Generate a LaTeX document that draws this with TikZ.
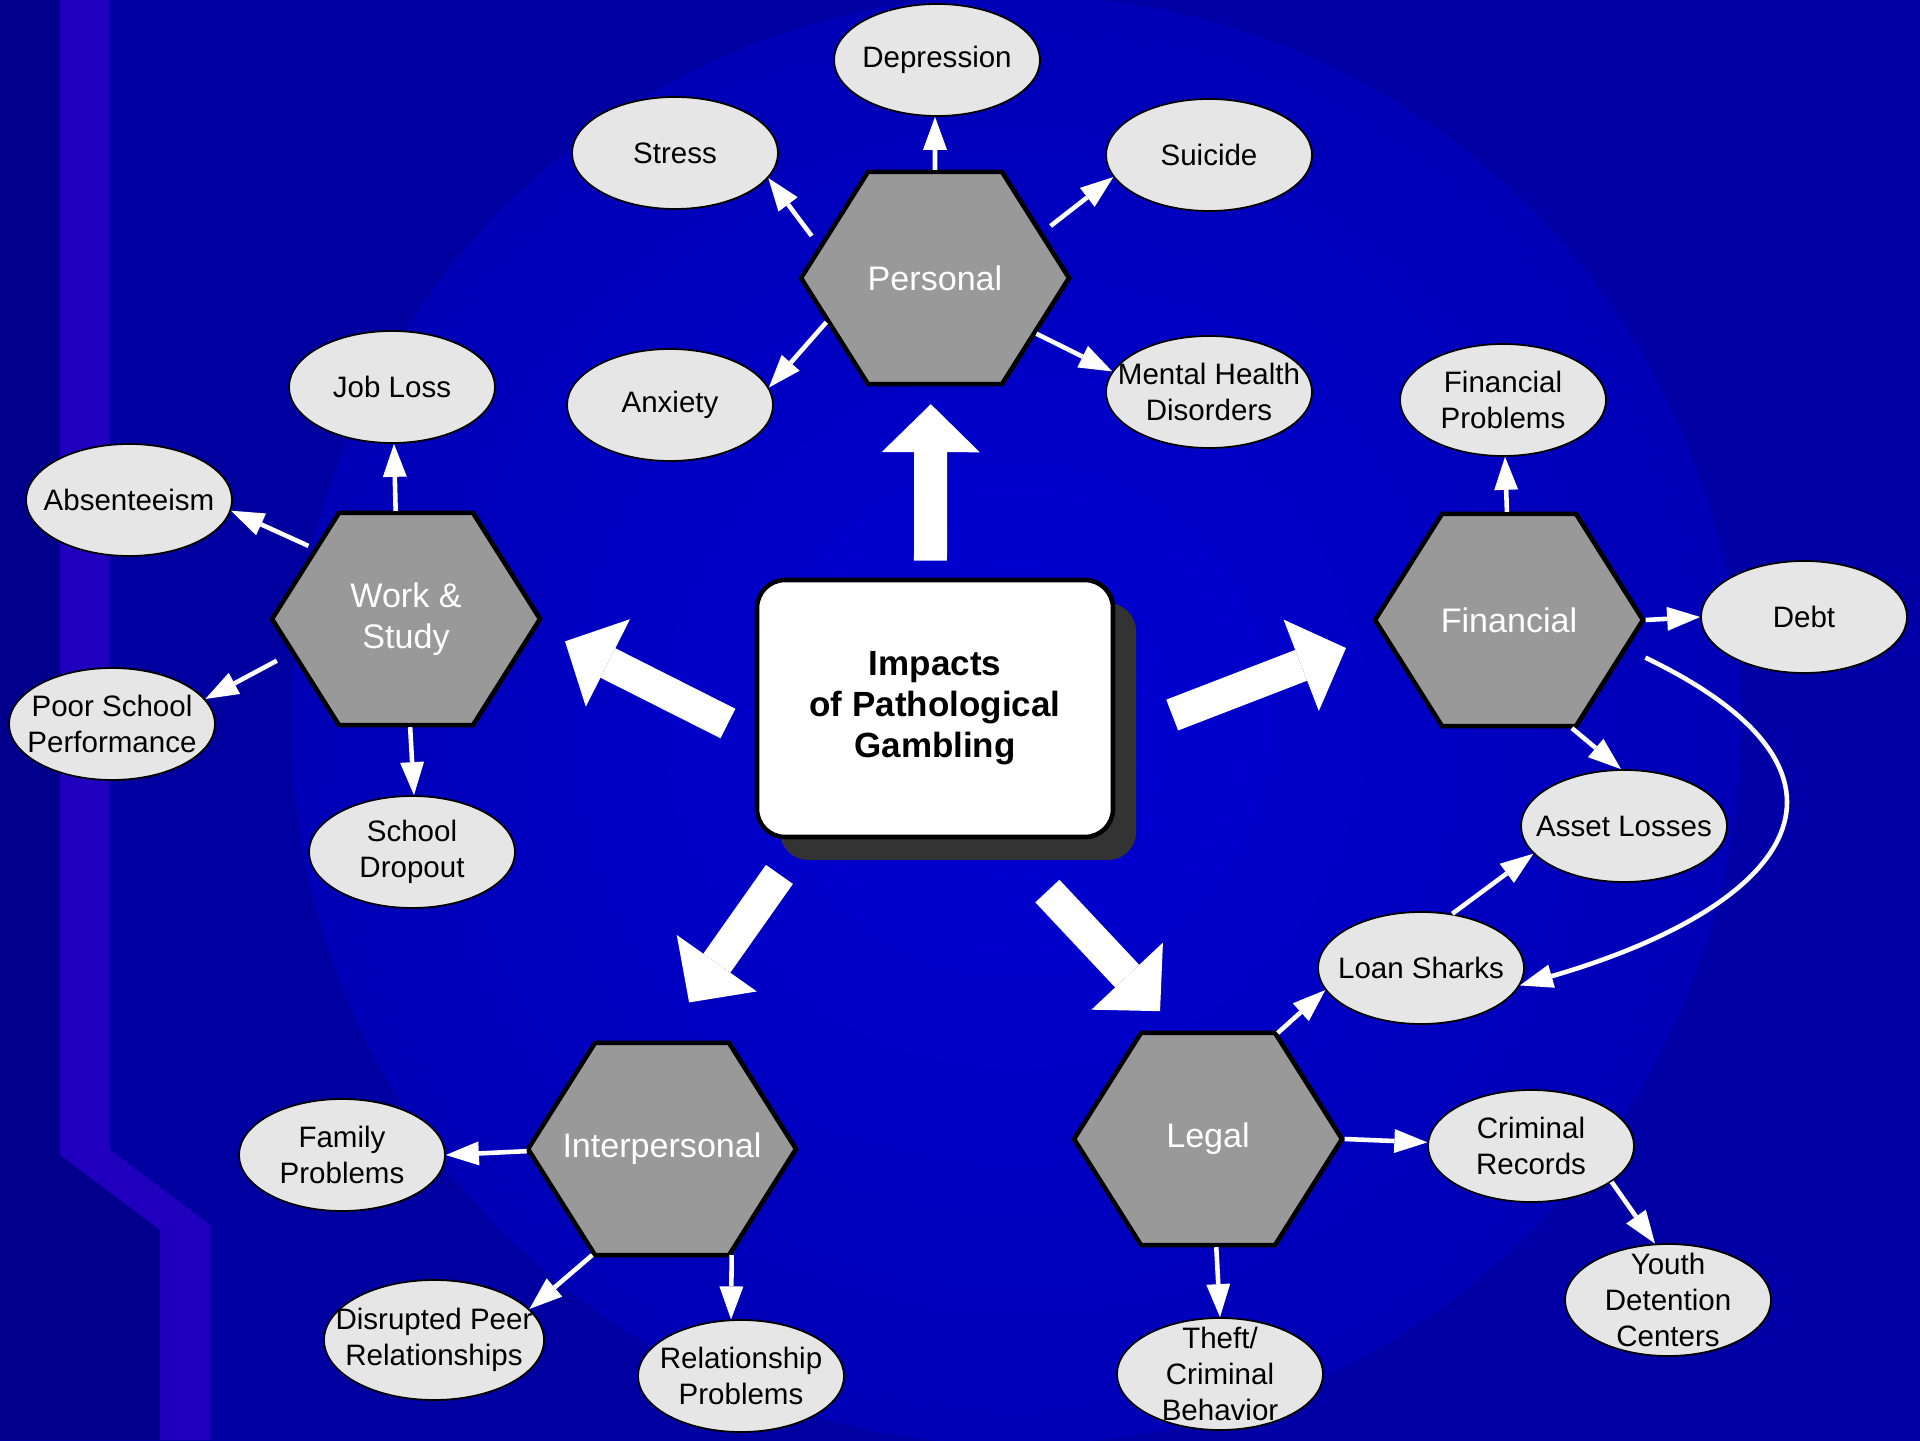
\documentclass[tikz,border=0pt]{standalone}
\usepackage{fontspec}
\setmainfont{Liberation Sans}
\usetikzlibrary{shapes.geometric, shadows, arrows.meta}

\definecolor{bgleft}{RGB}{0,0,160}
\definecolor{bgright}{RGB}{0,0,166}
\definecolor{bgdark}{RGB}{0,0,140}
\definecolor{bgstripe}{RGB}{32,0,190}
\definecolor{glowin}{RGB}{0,0,212}
\definecolor{glowout}{RGB}{0,0,182}
\definecolor{effgray}{RGB}{230,230,230}
\definecolor{areagray}{RGB}{153,153,153}
\definecolor{shadowgray}{RGB}{51,51,51}

\begin{document}
\begin{tikzpicture}
  \tikzstyle{effect}=[ellipse, draw=black, line width=0.5pt, fill=effgray, minimum width=2.06cm, minimum height=1.12cm, inner sep=0pt]
  \tikzstyle{efftext}=[text=black, align=center, font=\fontsize{8.4}{10.2}\selectfont]
  \tikzstyle{area}=[regular polygon, regular polygon sides=6, yscale=0.914, draw=black, line width=1.3pt, fill=areagray, minimum size=2.68cm, inner sep=0pt]
  \tikzstyle{areatext}=[text=white, align=center, font=\fontsize{9.7}{11.8}\selectfont]
  \tikzstyle{core}=[rectangle, rounded corners=0.28cm, draw=black, line width=1.3pt, fill=white, minimum width=3.56cm, minimum height=2.57cm, align=center, font=\fontsize{9.96}{11.7}\selectfont\bfseries, drop shadow={shadow xshift=0.23cm, shadow yshift=-0.23cm, fill=shadowgray, opacity=1}]
  \tikzstyle{link}=[draw=white, line width=1.3pt, -{Triangle[length=0.33cm, width=0.24cm, line width=0pt]}]
  \tikzstyle{bigarrow}=[draw=white, line width=0.33cm, -{Triangle[length=0.48cm, width=0.98cm, line width=0pt]}]

  \useasboundingbox (0,0) rectangle (19.2,14.4);

  % background
  \begin{scope}
    \clip (0,0) rectangle (19.2,14.4);
    \shade[left color=bgleft, right color=bgright] (0,0) rectangle (19.2,14.4);
    \fill[bgdark] (0,14.4) -- (0.6,14.4) -- (0.6,2.85) -- (1.6,2.1) -- (1.6,0) -- (0,0) -- cycle;
    \fill[bgstripe] (0.6,14.4) -- (1.1,14.4) -- (1.1,2.9) -- (2.1,2.15) -- (2.1,0) -- (1.6,0) -- (1.6,2.1) -- (0.6,2.85) -- cycle;
    \shade[inner color=glowin, outer color=glowout] (10.16,7.2) circle (7.25);
  \end{scope}

  % centre and areas
  \node[core] (box) at (9.35, 7.315) {Impacts\\of Pathological\\Gambling};

  \node[area, label={[areatext]center:Personal}]          (per)   at (9.35,  11.62) {};
  \node[area, label={[areatext]center:Work \&\\Study}]    (ws)    at (4.06,  8.21)  {};
  \node[area, label={[areatext]center:Financial}]         (fin)   at (15.09, 8.20)  {};
  \node[area, label={[areatext]center:Interpersonal}]     (inter) at (6.62,  2.91)  {};
  \node[area, label={[areatext]center:Legal}]             (leg)   at (12.08, 3.01)  {};

  % effects
  \node[effect, label={[efftext]center:Depression}]                     (dep)   at (9.37,  13.80) {};
  \node[effect, label={[efftext]center:Stress}]                         (str)   at (6.75,  12.87) {};
  \node[effect, label={[efftext]center:Suicide}]                        (sui)   at (12.09, 12.85) {};
  \node[effect, label={[efftext]center:Anxiety}]                        (anx)   at (6.70,  10.35) {};
  \node[effect, label={[efftext]center:Mental Health\\Disorders}]       (mhd)   at (12.09, 10.48) {};
  \node[effect, label={[efftext]center:Job Loss}]                       (job)   at (3.92,  10.53) {};
  \node[effect, label={[efftext]center:Absenteeism}]                    (abs)   at (1.29,  9.40)  {};
  \node[effect, label={[efftext]center:Poor School\\Performance}]       (poor)  at (1.12,  7.16)  {};
  \node[effect, label={[efftext]center:School\\Dropout}]                (drop)  at (4.12,  5.88)  {};
  \node[effect, label={[efftext]center:Financial\\Problems}]            (fprob) at (15.03, 10.40) {};
  \node[effect, label={[efftext]center:Debt}]                           (debt)  at (18.04, 8.23)  {};
  \node[effect, label={[efftext]center:Asset Losses}]                   (asset) at (16.24, 6.14)  {};
  \node[effect, label={[efftext]center:Loan Sharks}]                    (loan)  at (14.21, 4.72)  {};
  \node[effect, label={[efftext]center:Criminal\\Records}]              (crim)  at (15.31, 2.94)  {};
  \node[effect, label={[efftext]center:Youth\\Detention\\Centers}]      (youth) at (16.68, 1.40)  {};
  \node[effect, label={[efftext]center:Theft/\\Criminal\\Behavior}]     (theft) at (12.20, 0.66)  {};
  \node[effect, label={[efftext]center:Family\\Problems}]               (fam)   at (3.42,  2.85)  {};
  \node[effect, minimum width=2.2cm, minimum height=1.2cm, label={[efftext]center:Disrupted Peer\\Relationships}] (peer) at (4.34, 1.00) {};
  \node[effect, label={[efftext]center:Relationship\\Problems}]         (rel)   at (7.41,  0.64)  {};

  % big arrows
  \path (box.92)  edge[bigarrow, shorten <=0.17cm, shorten >=0.18cm] (per.-92);
  \path (box.189) edge[bigarrow, shorten <=0.30cm, shorten >=0.31cm] (ws.-4);
  \path (box.-9)  edge[bigarrow, shorten <=0.61cm, shorten >=0.38cm] (fin.187);
  \path (box.225) edge[bigarrow, shorten <=0.43cm, shorten >=0.47cm] (inter.90);
  \path (box.-64) edge[bigarrow, shorten <=0.71cm, shorten >=0.27cm] (leg.104);

  % small arrows
  \path (per.90)  edge[link] (dep.-92);
  \path (per.163) edge[link, shorten <=0.12cm] (str.-15);
  \path (per.25)  edge[link, shorten <=0.10cm] (sui.193);
  \path (per.204) edge[link] (anx.10);
  \path (per.-31) edge[link] (mhd.168);

  \path (ws.95)  edge[link] (job.-88);
  \path (ws.140) edge[link, shorten <=0.06cm] (abs.-6);
  \path (ws.198) edge[link, shorten <=0.16cm] (poor.15);
  \path (ws.-88) edge[link] (drop.88);

  \path (fin.91)   edge[link] (fprob.-88);
  \path (fin.east) edge[link] (debt.west);
  \path (fin.-62)  edge[link] (asset.93);
  \draw[link, shorten <=0.2cm] (fin.-15) .. controls +(2.6,-1.25) and +(2.75,0.8) .. (loan.-10);

  \path (leg.59)   edge[link] (loan.193);
  \path (loan.60)  edge[link] (asset.197);
  \path (leg.east) edge[link] (crim.178);
  \path (crim.-24) edge[link] (youth.103);
  \path (leg.-86)  edge[link] (theft.90);

  \path (inter.181) edge[link] (fam.east);
  \path (inter.239) edge[link] (peer.18);
  \path (inter.-59) edge[link] (rel.100);
\end{tikzpicture}
\end{document}
